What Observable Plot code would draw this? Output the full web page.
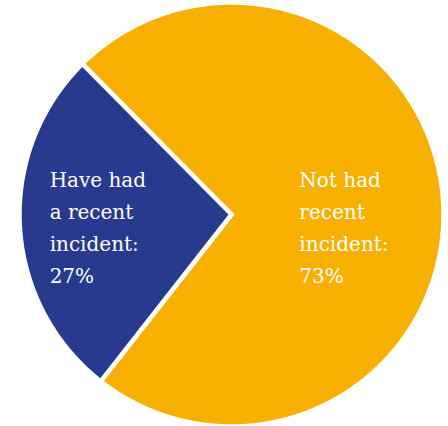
<!DOCTYPE html>
<html>
<head>
<meta charset="utf-8">
<script src="https://cdn.jsdelivr.net/npm/d3@7"></script>
<script src="https://cdn.jsdelivr.net/npm/@observablehq/plot@0.6"></script>
<style>
  html, body { margin: 0; padding: 0; background: #ffffff; }
  #chart svg { display: block; }
</style>
</head>
<body>
<div id="chart"></div>
<script>
// Data
const categories = ["Not had recent incident", "Have had a recent incident"];
const values = [73, 27];
const labels = ["Not had\nrecent\nincident:\n73%", "Have had\na recent\nincident:\n27%"];
const colors = ["#f8b000", "#273a8e"];

// Build slices with d3.pie (clockwise from 12 o'clock, rotated)
const rot = -44.7 * Math.PI / 180;
const arcs = d3.pie().sort(null).startAngle(rot).endAngle(rot + 2 * Math.PI)(values);

const points = [];
arcs.forEach((a, i) => {
  const cat = categories[i];
  points.push({slice: cat, x: 0, y: 0});
  const n = Math.max(2, Math.ceil((a.endAngle - a.startAngle) / (Math.PI / 360)));
  for (let k = 0; k <= n; k++) {
    const t = a.startAngle + (a.endAngle - a.startAngle) * k / n;
    points.push({slice: cat, x: Math.sin(t), y: Math.cos(t)});
  }
  points.push({slice: cat, x: 0, y: 0});
});

const labelData = arcs.map((a, i) => {
  const mid = (a.startAngle + a.endAngle) / 2;
  return {slice: categories[i], text: labels[i], x: Math.sin(mid) * 0.59, y: 0};
});

const chart = Plot.plot({
  width: 448,
  height: 426,
  marginLeft: 19,
  marginRight: 5,
  marginTop: 2,
  marginBottom: 0,
  x: {domain: [-1, 1], axis: null},
  y: {domain: [-1, 1], axis: null},
  color: {domain: categories, range: colors},
  marks: [
    Plot.line(points, {x: "x", y: "y", z: "slice", fill: "slice", stroke: "white", strokeWidth: 4.5, curve: "linear"}),
    Plot.text(labelData, {
      x: "x", y: "y", text: "text",
      fill: "white",
      textAnchor: "start",
      lineAnchor: "top",
      lineHeight: 1.6,
      fontSize: 20,
      fontFamily: "DejaVu Serif",
      dx: -57,
      dy: -50
    })
  ]
});
document.getElementById("chart").appendChild(chart);
</script>
</body>
</html>
